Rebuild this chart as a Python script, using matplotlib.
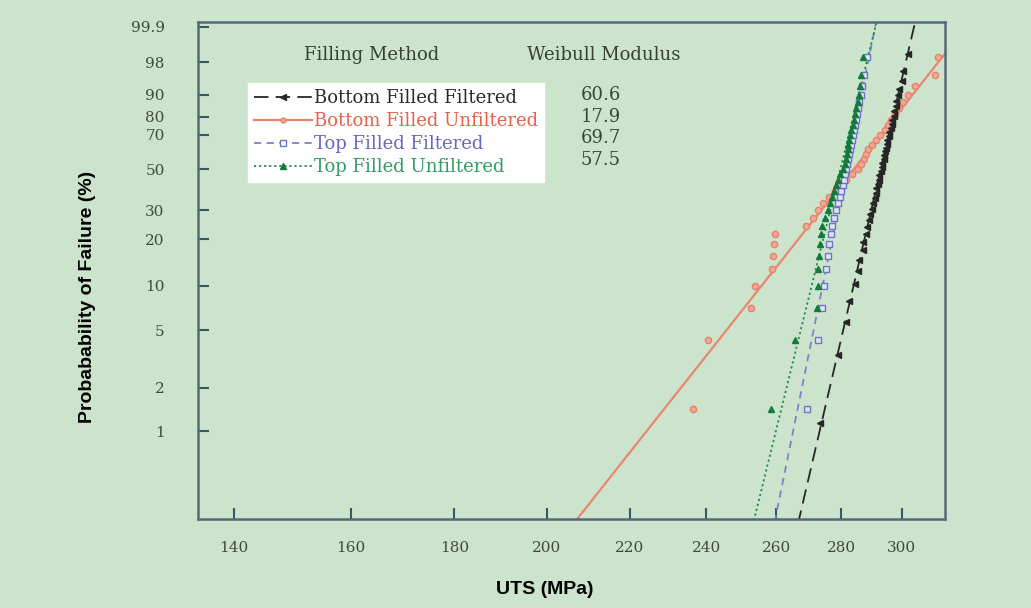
import numpy as np
import matplotlib
matplotlib.use("Agg")
import matplotlib.pyplot as plt
from matplotlib.lines import Line2D
from matplotlib.ticker import FixedLocator, FixedFormatter, NullLocator

# ---------------- data ----------------
series_names = ["Bottom Filled Filtered", "Bottom Filled Unfiltered",
                "Top Filled Filtered", "Top Filled Unfiltered"]
weibull_modulus = [60.6, 17.9, 69.7, 57.5]
modulus_labels = ["60.6", "17.9", "69.7", "57.5"]
# characteristic strength (MPa) of each fitted line (63.2 % failure)
char_strength = [294.7, 289.9, 283.1, 281.5]

# probability of failure (%) of each ranked specimen
prob_35 = [1.43, 4.29, 7.14, 10.0, 12.86, 15.71, 18.57, 21.43, 24.29, 27.14,
           30.0, 32.86, 35.71, 38.57, 41.43, 44.29, 47.14, 50.0, 52.86, 55.71,
           58.57, 61.43, 64.29, 67.14, 70.0, 72.86, 75.71, 78.57, 81.43, 84.29,
           87.14, 90.0, 92.86, 95.71, 98.57]
prob_44 = [1.14, 3.41, 5.68, 7.95, 10.23, 12.5, 14.77, 17.05, 19.32, 21.59,
           23.86, 26.14, 28.41, 30.68, 32.95, 35.23, 37.5, 39.77, 42.05, 44.32,
           46.59, 48.86, 51.14, 53.41, 55.68, 57.95, 60.23, 62.5, 64.77, 67.05,
           69.32, 71.59, 73.86, 76.14, 78.41, 80.68, 82.95, 85.23, 87.5, 89.77,
           92.05, 94.32, 96.59, 98.86]

uts_bottom_filtered = [273.2, 279.0, 281.5, 282.4, 284.5, 285.3, 285.6, 286.9, 287.0, 288.1,
                       288.2, 289.1, 289.3, 290.0, 290.2, 290.9, 291.2, 291.4, 292.0, 292.2,
                       292.3, 293.0, 293.2, 293.3, 293.9, 294.1, 294.2, 294.8, 295.0, 295.1,
                       295.6, 295.7, 296.3, 296.6, 296.7, 297.3, 297.4, 298.1, 298.2, 298.9,
                       299.2, 300.1, 300.5, 302.3]
uts_bottom_unfiltered = [236.3, 240.5, 252.5, 253.8, 258.8, 259.1, 259.3, 259.6, 269.0, 271.1,
                         272.7, 274.2, 276.1, 278.0, 279.6, 281.5, 283.5, 285.4, 286.4, 287.4,
                         288.0, 288.7, 290.0, 291.4, 292.7, 294.4, 295.4, 296.4, 297.7, 299.1,
                         300.5, 302.2, 304.6, 311.7, 312.7]
uts_top_filtered = [269.3, 272.8, 273.9, 274.6, 275.2, 275.8, 276.1, 276.8, 277.1, 277.7,
                    278.3, 279.0, 279.6, 279.9, 280.6, 280.9, 281.2, 281.5, 281.9, 282.2,
                    282.5, 282.8, 283.2, 283.5, 283.8, 284.1, 284.4, 284.8, 285.1, 285.4,
                    285.8, 286.4, 286.7, 287.4, 288.4]
uts_top_unfiltered = [258.3, 265.6, 272.3, 272.7, 272.8, 273.0, 273.3, 273.6, 273.9, 274.9,
                      275.8, 276.4, 277.1, 277.7, 278.3, 279.0, 279.6, 280.6, 281.2, 281.5,
                      281.9, 282.0, 282.2, 282.5, 282.8, 283.2, 283.8, 284.1, 284.4, 284.8,
                      285.4, 285.8, 286.1, 286.4, 287.1]

x_ticks = [140, 160, 180, 200, 220, 240, 260, 280, 300]
y_ticks = [1, 2, 5, 10, 20, 30, 50, 70, 80, 90, 98, 99.9]
y_tick_labels = ["1", "2", "5", "10", "20", "30", "50", "70", "80", "90", "98", "99.9"]

# ---------------- styling ----------------
BG = "#cde4cc"
colors = ["#262626", "#ea8670", "#7a82c8", "#1f8a48"]
text_colors = ["#2a2a2a", "#e2624a", "#6468c0", "#2e9e62"]
linestyles = [(0, (8, 4)), "-", (0, (4, 3)), (0, (1.2, 1.6))]

plt.rcParams["font.family"] = ["DejaVu Serif", "DejaVu Sans"]

fig = plt.figure(figsize=(10.31, 6.08), dpi=100)
fig.patch.set_facecolor(BG)
ax = fig.add_axes([198 / 1031, 1 - 519 / 608, (945 - 198) / 1031, (519 - 22) / 608])
ax.set_facecolor(BG)


def weib_fwd(p):
    p = np.clip(np.asarray(p, dtype=float) / 100.0, 1e-12, 1 - 1e-12)
    return np.log(-np.log(1 - p))


def weib_inv(w):
    return 100.0 * (1 - np.exp(-np.exp(np.asarray(w, dtype=float))))


ax.set_xscale("log")
ax.set_yscale("function", functions=(weib_fwd, weib_inv))

data_x = [uts_bottom_filtered, uts_bottom_unfiltered, uts_top_filtered, uts_top_unfiltered]
data_p = [prob_44, prob_35, prob_35, prob_35]

# fitted Weibull lines
xfit = np.geomspace(190, 340, 400)
for i in [1, 0, 2, 3]:
    m = weibull_modulus[i]
    x0 = char_strength[i]
    pf = 100.0 * (1 - np.exp(-(xfit / x0) ** m))
    ax.plot(xfit, pf, color=colors[i], ls=linestyles[i],
            lw=1.6 if i == 1 else 1.3, zorder=2)

# data points
ax.plot(data_x[1], data_p[1], ls="none", marker="o", ms=4.5,
        mfc="#f2a898", mec="#e88068", mew=1.0, zorder=3)
ax.plot(data_x[0], data_p[0], ls="none", marker="<", ms=4.5,
        color=colors[0], zorder=3)
ax.plot(data_x[2], data_p[2], ls="none", marker="s", ms=5,
        mfc="#dfe3f2", mec="#6d74c6", mew=1.0, zorder=3)
ax.plot(data_x[3], data_p[3], ls="none", marker="^", ms=5,
        color="#137a3e", zorder=4)

ax.set_xlim(134.35, 315.2)
ax.set_ylim(0.2431, 99.9428)

ax.xaxis.set_major_locator(FixedLocator(x_ticks))
ax.xaxis.set_major_formatter(FixedFormatter([str(v) for v in x_ticks]))
ax.xaxis.set_minor_locator(NullLocator())
ax.yaxis.set_major_locator(FixedLocator(y_ticks))
ax.yaxis.set_major_formatter(FixedFormatter(y_tick_labels))
ax.yaxis.set_minor_locator(NullLocator())

ax.tick_params(axis="both", direction="in", length=8, width=1.5,
               color="#3f5566", labelcolor="#3e4a3e", labelsize=11)
ax.tick_params(axis="x", pad=16)
ax.tick_params(axis="y", pad=24)
for lab in ax.get_xticklabels() + ax.get_yticklabels():
    lab.set_family("DejaVu Serif")

for sp in ax.spines.values():
    sp.set_color("#56697a")
    sp.set_linewidth(1.8)

# legend
handles = [
    Line2D([], [], color=colors[0], ls=linestyles[0], lw=1.3, marker="<", ms=4),
    Line2D([], [], color=colors[1], ls="-", lw=1.6, marker="o", ms=3.5,
           mfc="#f2a898", mec="#e88068"),
    Line2D([], [], color=colors[2], ls=linestyles[2], lw=1.3, marker="s", ms=4,
           mfc="white", mec="#6d74c6"),
    Line2D([], [], color=colors[3], ls=linestyles[3], lw=1.3, marker="^", ms=4,
           mfc="#137a3e", mec="#137a3e"),
]

leg = ax.legend(handles, series_names, loc="upper left",
                bbox_to_anchor=((248 - 198) / 747, (519 - 83) / 497),
                borderaxespad=0, frameon=True, fancybox=False,
                facecolor="white", edgecolor="white", framealpha=1,
                prop={"family": "DejaVu Serif", "size": 13},
                handlelength=3.2, handletextpad=0.1, labelspacing=0.27,
                borderpad=0.35)
for t, c in zip(leg.get_texts(), text_colors):
    t.set_color(c)

# header texts and modulus values
hdr_color = "#344034"
fig.text(372 / 1031, 1 - 55 / 608, "Filling Method", ha="center", va="center",
         fontsize=13, color=hdr_color, family="DejaVu Serif")
fig.text(604 / 1031, 1 - 55 / 608, "Weibull Modulus", ha="center", va="center",
         fontsize=13, color=hdr_color, family="DejaVu Serif")
mod_y = [95, 117, 138, 160]
for lab, yy in zip(modulus_labels, mod_y):
    fig.text(601 / 1031, 1 - yy / 608, lab, ha="center", va="center",
             fontsize=13, color="#3a463a", family="DejaVu Serif")

# axis titles
fig.text(545 / 1031, 1 - 590 / 608, "UTS (MPa)", ha="center", va="center",
         fontsize=14, fontweight="bold", family=["Liberation Sans", "DejaVu Sans"])
fig.text(88 / 1031, 1 - 297 / 608, "Probabability of Failure (%)", ha="center",
         va="center", rotation=90, fontsize=14, fontweight="bold",
         family=["Liberation Sans", "DejaVu Sans"])

fig.savefig("out.png", dpi=100, facecolor=BG)
